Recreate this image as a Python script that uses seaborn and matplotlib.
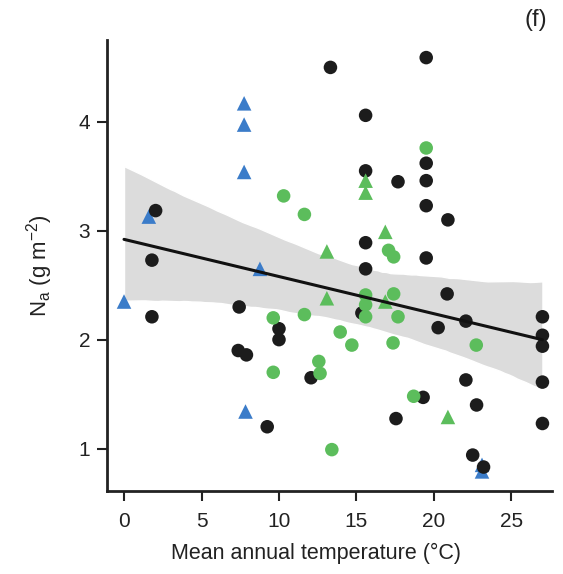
import numpy as np
import pandas as pd
import matplotlib
matplotlib.use("Agg")
import matplotlib.pyplot as plt
import seaborn as sns

# ---- data ----
black_x = [2.04, 1.8, 1.8, 7.43, 7.37, 7.9, 9.24, 10.0, 10.0, 12.07, 13.32, 15.59, 15.59, 15.59,
           15.59, 15.35, 17.68, 17.55, 19.3, 19.5, 19.5, 19.5, 19.5, 19.5, 20.9, 20.85, 20.27,
           22.06, 22.06, 22.75, 22.5, 23.2, 27.0, 27.0, 27.0, 27.0, 27.0]
black_y = [3.185, 2.73, 2.21, 2.30, 1.90, 1.86, 1.20, 2.10, 2.00, 1.65, 4.50, 4.06, 3.55, 2.89,
           2.65, 2.245, 3.45, 1.275, 1.47, 4.59, 3.62, 3.46, 3.23, 2.75, 3.10, 2.42, 2.11,
           2.17, 1.63, 1.40, 0.94, 0.83, 2.21, 2.04, 1.94, 1.61, 1.23]

green_c_x = [10.3, 11.64, 17.07, 17.4, 15.59, 15.59, 15.59, 17.4, 17.68, 9.63, 11.64, 13.95,
             14.7, 17.36, 12.57, 12.65, 9.63, 13.41, 18.69, 19.5, 22.73]
green_c_y = [3.32, 3.15, 2.82, 2.76, 2.41, 2.32, 2.21, 2.42, 2.21, 2.20, 2.23, 2.07,
             1.95, 1.97, 1.80, 1.69, 1.70, 0.99, 1.48, 3.76, 1.95]

green_t_x = [15.59, 15.59, 16.86, 13.09, 13.09, 16.86, 20.9]
green_t_y = [3.46, 3.35, 2.99, 2.81, 2.38, 2.35, 1.29]

blue_t_x = [0.0, 1.6, 7.75, 7.75, 7.75, 8.77, 7.84, 23.1, 23.1]
blue_t_y = [2.35, 3.13, 4.17, 3.975, 3.54, 2.65, 1.34, 0.85, 0.79]

colors = {"A": "#1c1c1c", "B": "#5cbd5c", "C": "#5cbd5c", "D": "#3b7cc9"}
markers = {"A": "o", "B": "o", "C": "^", "D": "^"}

df = pd.concat([
    pd.DataFrame({"temp": black_x, "Na": black_y, "grp": "A"}),
    pd.DataFrame({"temp": green_c_x, "Na": green_c_y, "grp": "B"}),
    pd.DataFrame({"temp": green_t_x, "Na": green_t_y, "grp": "C"}),
    pd.DataFrame({"temp": blue_t_x, "Na": blue_t_y, "grp": "D"}),
], ignore_index=True)

sns.set_theme(style="ticks")
plt.rcParams["font.family"] = ["Liberation Sans", "DejaVu Sans"]

fig = plt.figure(figsize=(5.63, 5.74), dpi=100)
ax = fig.add_axes([0.19, 0.1446, 0.79, 0.7854])

sns.regplot(data=df, x="temp", y="Na", scatter=False, ci=99, n_boot=2000, seed=1,
            truncate=True, ax=ax,
            line_kws={"color": "#111111", "lw": 2.2, "zorder": 5})
for coll in ax.collections:
    coll.set_facecolor("#dcdcdc")
    coll.set_alpha(1.0)
    coll.set_zorder(1)

for g in ["D", "A", "B", "C"]:
    sub = df[df["grp"] == g]
    sns.scatterplot(data=sub, x="temp", y="Na", color=colors[g], marker=markers[g],
                    s=95 if markers[g] == "o" else 110, edgecolor="none",
                    linewidth=0, ax=ax, zorder=3, legend=False)

ax.set_xlim(-1.1, 27.6)
ax.set_ylim(0.61, 4.75)
ax.set_xticks([0, 5, 10, 15, 20, 25])
ax.set_yticks([1, 2, 3, 4])
ax.tick_params(axis="both", labelsize=15, length=7, width=1.5, colors="#222222",
               labelcolor="#222222", direction="out")
ax.tick_params(axis="x", pad=8)
ax.tick_params(axis="y", pad=5)
for sp in ["top", "right"]:
    ax.spines[sp].set_visible(False)
for sp in ["left", "bottom"]:
    ax.spines[sp].set_linewidth(2)
    ax.spines[sp].set_color("#222222")

ax.set_xlabel("Mean annual temperature (°C)", fontsize=15.5, color="#222222")
ax.xaxis.set_label_coords(0.47, -0.115)
ax.set_ylabel(r"N$_\mathregular{a}$ (g m$^{\mathregular{-2}}$)", fontsize=16, color="#222222", labelpad=17)
fig.text(0.952, 0.965, "(f)", fontsize=17, ha="center", va="center", color="#222222")

fig.savefig("out.png", dpi=100)
